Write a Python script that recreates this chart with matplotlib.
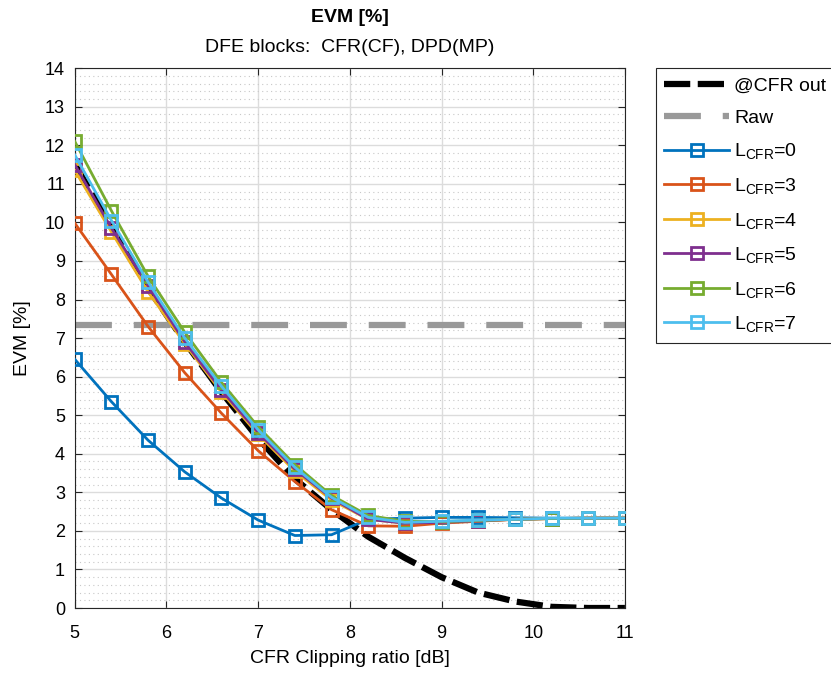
import numpy as np
import matplotlib
matplotlib.use("Agg")
import matplotlib.pyplot as plt
from matplotlib.ticker import MultipleLocator

plt.rcParams['font.family'] = ['Liberation Sans', 'DejaVu Sans']
plt.rcParams['mathtext.fontset'] = 'custom'
plt.rcParams['mathtext.rm'] = 'Liberation Sans'
plt.rcParams['mathtext.it'] = 'Liberation Sans'

# CFR clipping ratio [dB]
x = [5.0, 5.4, 5.8, 6.2, 6.6, 7.0, 7.4, 7.8, 8.2, 8.6, 9.0, 9.4, 9.8, 10.2, 10.6, 11.0]

cfr_out = [11.5, 9.9, 8.3, 6.9, 5.6, 4.4, 3.35, 2.55, 1.85, 1.3, 0.8, 0.4, 0.17, 0.03, 0.0, 0.0]
raw = 7.34

l0 = [6.45, 5.35, 4.35, 3.53, 2.85, 2.28, 1.88, 1.9, 2.3, 2.33, 2.35, 2.35, 2.34, 2.33, 2.33, 2.33]
l3 = [9.98, 8.65, 7.3, 6.1, 5.05, 4.08, 3.28, 2.55, 2.13, 2.12, 2.2, 2.25, 2.3, 2.32, 2.33, 2.33]
l4 = [11.35, 9.75, 8.2, 6.85, 5.6, 4.5, 3.55, 2.8, 2.3, 2.2, 2.22, 2.26, 2.3, 2.32, 2.33, 2.33]
l5 = [11.5, 9.85, 8.35, 6.9, 5.65, 4.55, 3.6, 2.85, 2.3, 2.2, 2.22, 2.26, 2.3, 2.32, 2.33, 2.33]
l6 = [12.1, 10.3, 8.6, 7.15, 5.85, 4.7, 3.72, 2.92, 2.4, 2.25, 2.24, 2.27, 2.3, 2.32, 2.33, 2.33]
l7 = [11.75, 10.05, 8.45, 7.0, 5.75, 4.62, 3.65, 2.87, 2.35, 2.22, 2.25, 2.28, 2.3, 2.33, 2.33, 2.33]

series = [l0, l3, l4, l5, l6, l7]
labels = [r'L$_{\mathrm{CFR}}$=0', r'L$_{\mathrm{CFR}}$=3', r'L$_{\mathrm{CFR}}$=4',
          r'L$_{\mathrm{CFR}}$=5', r'L$_{\mathrm{CFR}}$=6', r'L$_{\mathrm{CFR}}$=7']
colors = ['#0072BD', '#D95319', '#EDB120', '#7E2F8E', '#77AC30', '#4DBEEE']

fig = plt.figure(figsize=(8.31, 6.82), dpi=100)
ax = fig.add_axes([0.090, 0.1085, 0.662, 0.7915])

ax.plot(x, cfr_out, color='black', linestyle=(0, (4.2, 1.2)), linewidth=4.5, label='@CFR out', zorder=2)
ax.plot([x[0], x[-1]], [raw, raw], color='#999999', linestyle=(0, (5.9, 3.5)), linewidth=4.5, label='Raw', zorder=2)
for s, lab, c in zip(series, labels, colors):
    ax.plot(x, s, color=c, linewidth=2, marker='s', markersize=8, markerfacecolor='none',
            markeredgewidth=2, label=lab, zorder=3)

ax.set_xlim(5, 11)
ax.set_ylim(0, 14)
ax.xaxis.set_major_locator(MultipleLocator(1))
ax.yaxis.set_major_locator(MultipleLocator(1))
ax.yaxis.set_minor_locator(MultipleLocator(0.2))
ax.grid(True, which='major', color='#dcdcdc', linewidth=1)
ax.grid(True, which='minor', axis='y', color='#c8c8c8', linestyle=(0, (1, 3)), linewidth=0.8)
ax.set_axisbelow(True)
ax.tick_params(which='major', direction='in', length=5, labelsize=13, top=True, right=True, color='#262626')
ax.tick_params(axis='x', which='major', pad=12)
ax.tick_params(axis='y', which='major', pad=7)
ax.tick_params(which='minor', length=0)
for sp in ax.spines.values():
    sp.set_color('#262626')

ax.set_xlabel('CFR Clipping ratio [dB]', fontsize=14, labelpad=6)
ax.set_ylabel('EVM [%]', fontsize=14, labelpad=10)
fig.text(0.5 * (0.090 + 0.752), 1 - 18 / 682, 'EVM [%]', ha='center', va='center',
         fontsize=14, fontweight='bold')
fig.text(0.5 * (0.090 + 0.752), 1 - 47 / 682, 'DFE blocks:  CFR(CF), DPD(MP)', ha='center',
         va='center', fontsize=14)

leg = ax.legend(loc='upper left', bbox_to_anchor=(1.056, 1.0), borderaxespad=0, fontsize=14,
                handlelength=3.3, handletextpad=0.3, labelspacing=0.75, borderpad=0.45,
                fancybox=False, edgecolor='#262626', framealpha=1)
leg.get_frame().set_linewidth(0.8)

fig.savefig('out.png', dpi=100)
